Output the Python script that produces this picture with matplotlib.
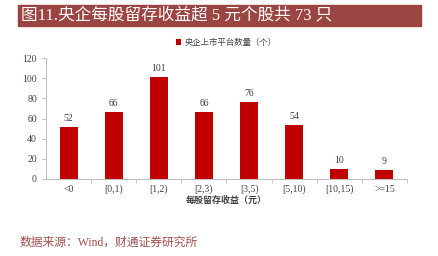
import matplotlib.pyplot as plt
from matplotlib.patches import Rectangle

categories = ['<0', '[0,1)', '[1,2)', '[2,3)', '[3,5)', '[5,10)', '[10,15)', '>=15']
counts = [52, 66, 101, 66, 76, 54, 10, 9]
yticks = [0, 20, 40, 60, 80, 100, 120]

plt.rcParams['font.family'] = ['Liberation Serif', 'Noto Sans CJK SC']

W, H = 439, 256
fig = plt.figure(figsize=(W / 100, H / 100), dpi=100)
ax = fig.add_axes([46 / W, 1 - 179 / H, (407 - 46) / W, (179 - 58) / H])

x = list(range(len(categories)))
ax.bar(x, counts, width=0.4, color='#C00000', label='央企上市平台数量（个）')
for xi, v in zip(x, counts):
    ax.text(xi, v + 4, str(v), ha='center', va='bottom', fontsize=7, color='#404040')

ax.set_xlim(-0.5, len(categories) - 0.5)
ax.set_ylim(0, 120)
ax.set_yticks(yticks)
ax.set_xticks(x)
ax.set_xticklabels(categories)
ax.set_xticks([i + 0.5 for i in range(len(categories))], minor=True)
ax.tick_params(axis='x', which='major', length=0, labelsize=7, colors='#404040', pad=4)
ax.tick_params(axis='x', which='minor', length=3, color='#BFBFBF')
ax.tick_params(axis='y', length=3, color='#BFBFBF', labelsize=7, labelcolor='#404040')
for s in ['top', 'right']:
    ax.spines[s].set_visible(False)
ax.spines['left'].set_color('#BFBFBF')
ax.spines['bottom'].set_color('#BFBFBF')
ax.set_xlabel('每股留存收益（元）', fontsize=6.5, fontweight='bold', color='#404040', labelpad=1)

ax.legend(loc='upper center', bbox_to_anchor=(0.5, 1.22), frameon=False, fontsize=6,
          handlelength=0.6, handleheight=0.6, handletextpad=0.4, labelcolor='#404040')

# title bar
fig.patches.append(Rectangle((18 / W, 1 - 26 / H), (421 - 18) / W, 21 / H,
                             transform=fig.transFigure, color='#9B4543', zorder=0))
fig.text(21 / W, 1 - 15.5 / H, '图11.央企每股留存收益超 5 元个股共 73 只', color='white',
         fontsize=12, va='center', ha='left')
fig.text(20 / W, 1 - 243 / H, '数据来源：Wind，财通证券研究所', color='#A0504E',
         fontsize=8.5, va='center', ha='left')

fig.savefig('out.png', dpi=100)
